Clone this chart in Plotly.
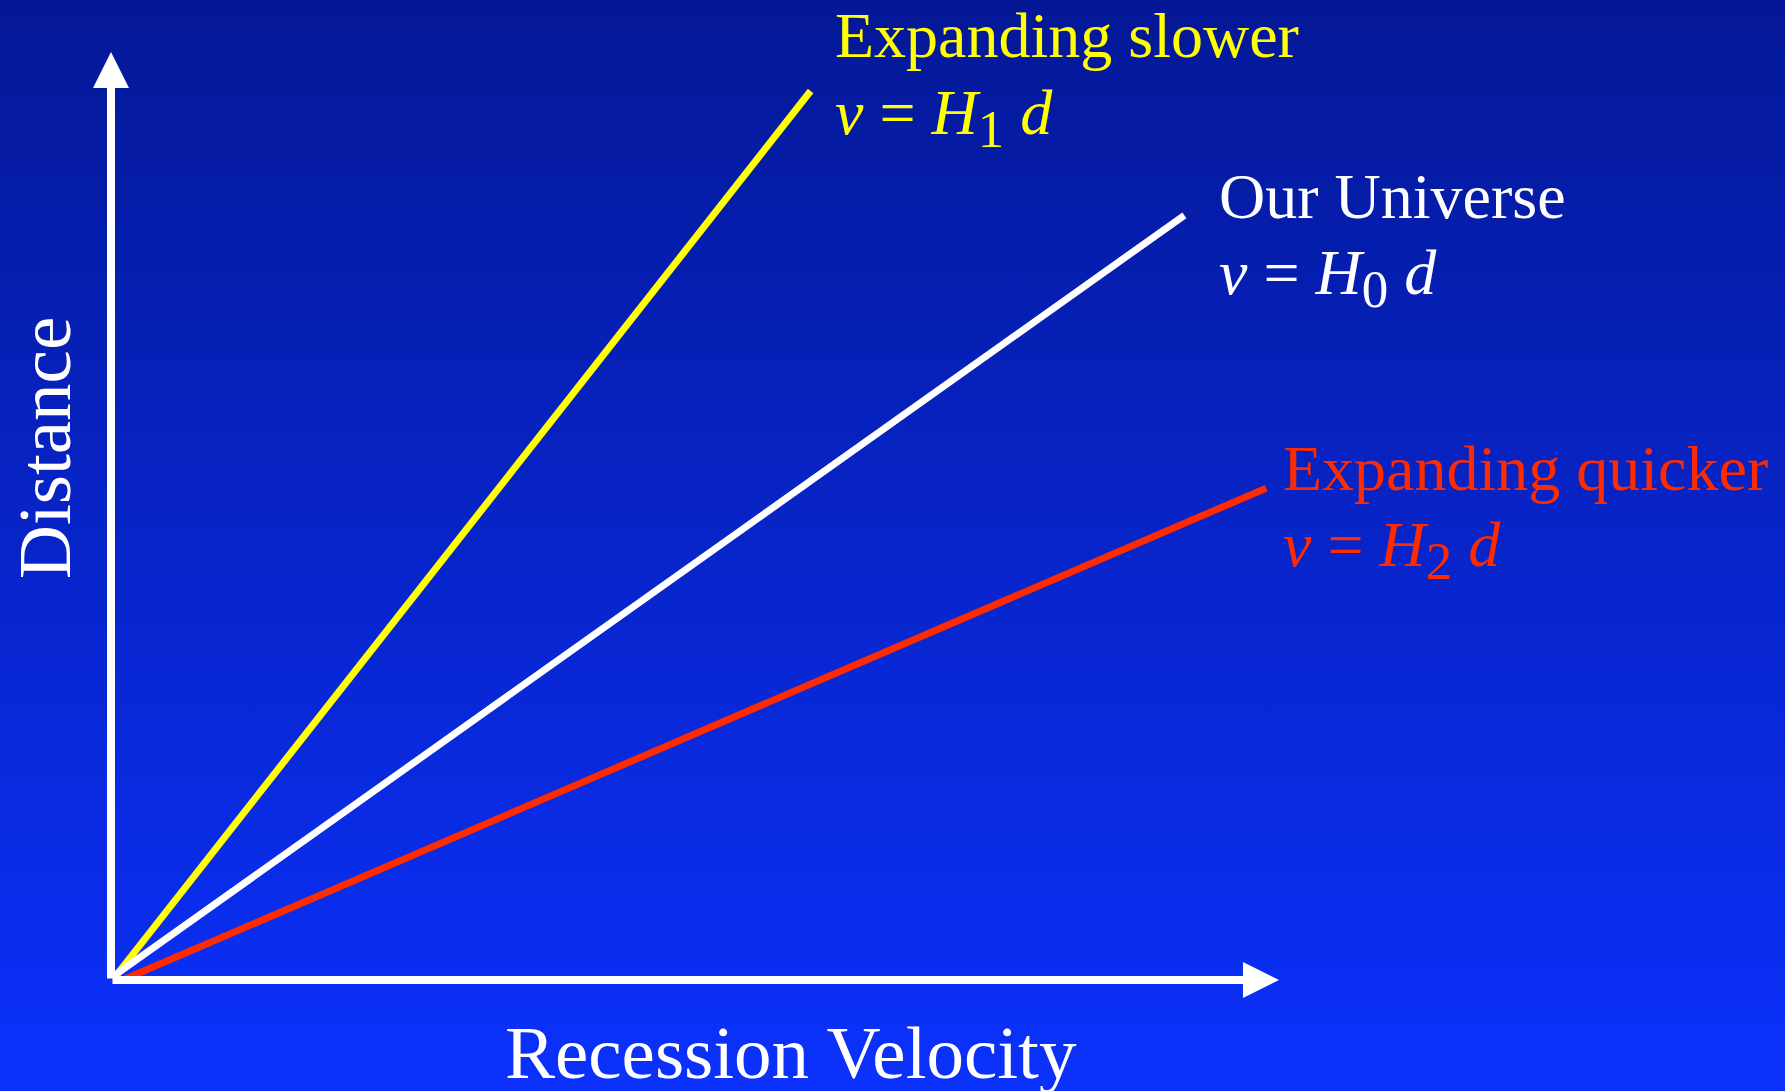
import base64
import plotly.graph_objects as go

W, H = 1785, 1091

# ---- data (axis units: 0..10 on both axes) ----
series_names = ["Expanding slower", "Our Universe", "Expanding quicker"]
hubble_index = ["1", "0", "2"]
x_start = [0.02, 0.03, 0.12]
y_start = [0.01, 0.05, 0.01]
x_end = [5.99, 9.19, 9.89]
y_end = [9.58, 8.24, 5.30]
axis_titles = ["Recession Velocity", "Distance"]
axis_max = 10

# ---- style ----
line_colors = ["#FFFF00", "#FFFFFF", "#FF2A00"]
FONT = "Liberation Serif"
label_size = 64
axis_title_size = 75
# label placement in pixels (left edge, top of title line, top of equation line)
label_px = [(834, -1, 76), (1218, 160, 236), (1282, 432, 508)]

def px(x):
    return x / W

def py(y):
    return 1 - y / H

svg = (
    '<svg xmlns="http://www.w3.org/2000/svg" width="100" height="100" '
    'viewBox="0 0 100 100" preserveAspectRatio="none">'
    '<defs><linearGradient id="g" x1="0" y1="0" x2="0" y2="1">'
    '<stop offset="0" stop-color="#041896"/>'
    '<stop offset="1" stop-color="#0B31FC"/>'
    '</linearGradient></defs>'
    '<rect x="0" y="0" width="100" height="100" fill="url(#g)"/></svg>'
)
bg_src = "data:image/svg+xml;base64," + base64.b64encode(svg.encode()).decode()

fig = go.Figure()
for name, xs, ys, xe, ye, c in zip(series_names, x_start, y_start, x_end, y_end, line_colors):
    fig.add_trace(go.Scatter(
        x=[xs, xe], y=[ys, ye], mode="lines", name=name,
        line=dict(color=c, width=7), hoverinfo="skip", showlegend=False,
    ))

annotations = []
# axis arrows
annotations.append(dict(
    x=0, y=axis_max, ax=0, ay=0, xref="x", yref="y", axref="x", ayref="y",
    text="", showarrow=True, arrowhead=2, arrowsize=0.9, arrowwidth=8,
    arrowcolor="white", standoff=0,
))
annotations.append(dict(
    x=axis_max, y=0, ax=0, ay=0, xref="x", yref="y", axref="x", ayref="y",
    text="", showarrow=True, arrowhead=2, arrowsize=0.9, arrowwidth=8,
    arrowcolor="white", standoff=0,
))

# line labels
for name, idx, c, (lx, t1, t2) in zip(series_names, hubble_index, line_colors, label_px):
    annotations.append(dict(
        x=px(lx), y=py(t1), xref="paper", yref="paper", xanchor="left", yanchor="top",
        text=name, showarrow=False, borderpad=0,
        font=dict(family=FONT, size=label_size, color=c),
    ))
    eq = ("<i>v</i> = <i>H</i> <sub><span style='font-size:53px'>" + idx +
          "</span></sub> <i>d</i>")
    annotations.append(dict(
        x=px(lx), y=py(t2), xref="paper", yref="paper", xanchor="left", yanchor="top",
        text=eq.replace("<i>H</i> <sub>", "<i>H</i><sub>"), showarrow=False, borderpad=0,
        font=dict(family=FONT, size=label_size, color=c),
    ))

# axis titles
annotations.append(dict(
    x=px(791), y=py(1052.7), xref="paper", yref="paper", xanchor="center", yanchor="middle",
    text=axis_titles[0], showarrow=False, borderpad=0,
    font=dict(family=FONT, size=axis_title_size, color="white"),
))
annotations.append(dict(
    x=px(44.7), y=py(448.5), xref="paper", yref="paper", xanchor="center", yanchor="middle",
    text=axis_titles[1], showarrow=False, borderpad=0, textangle=-90,
    font=dict(family=FONT, size=axis_title_size, color="white"),
))

fig.update_layout(
    width=W, height=H, autosize=False,
    margin=dict(l=0, r=0, t=0, b=0, pad=0),
    paper_bgcolor="#0725C8", plot_bgcolor="rgba(0,0,0,0)",
    xaxis=dict(domain=[px(111), px(1279)], range=[0, axis_max], visible=False, fixedrange=True),
    yaxis=dict(domain=[py(980), py(52)], range=[0, axis_max], visible=False, fixedrange=True),
    images=[dict(source=bg_src, xref="paper", yref="paper", x=0, y=1, sizex=1, sizey=1,
                 xanchor="left", yanchor="top", sizing="stretch", layer="below")],
    annotations=annotations,
    showlegend=False,
)

fig.write_html("out.html", config={"displayModeBar": False},
               post_script="document.body.style.margin='0';document.body.style.overflow='hidden';")
